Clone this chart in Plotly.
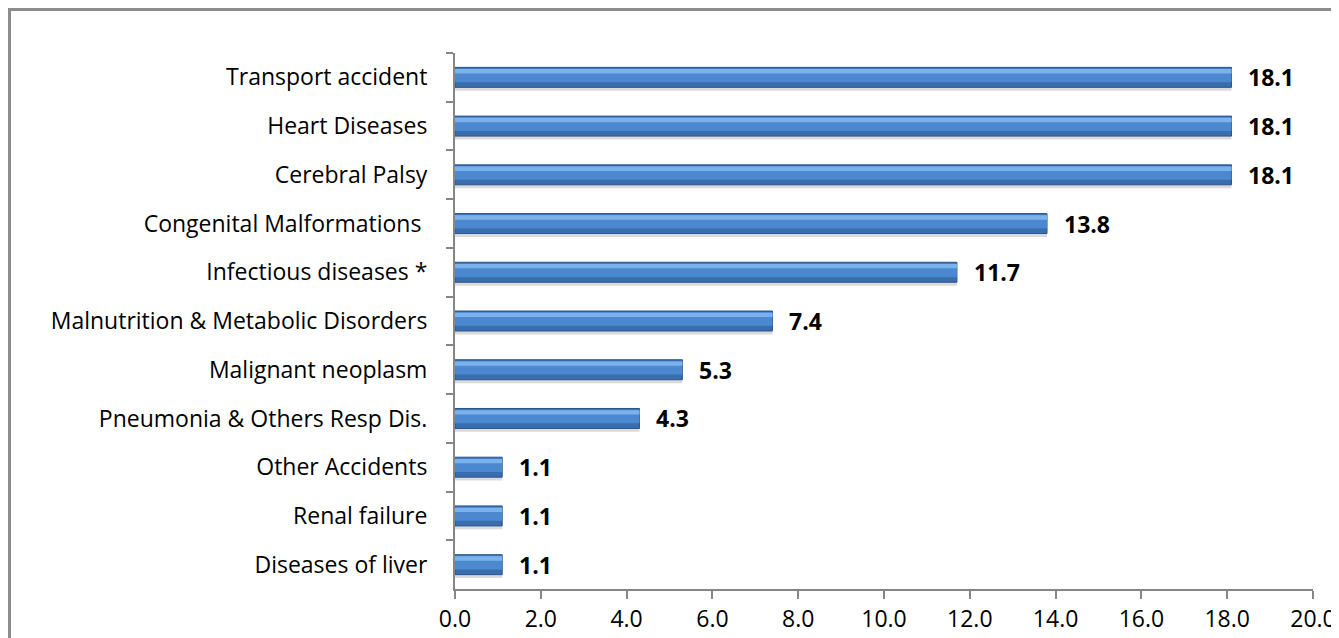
import plotly.graph_objects as go

categories = [
    "Transport accident",
    "Heart Diseases",
    "Cerebral Palsy",
    "Congenital Malformations\u00a0",
    "Infectious diseases *",
    "Malnutrition & Metabolic Disorders",
    "Malignant neoplasm",
    "Pneumonia & Others Resp Dis.",
    "Other Accidents",
    "Renal failure",
    "Diseases of liver",
]
values = [18.1, 18.1, 18.1, 13.8, 11.7, 7.4, 5.3, 4.3, 1.1, 1.1, 1.1]
value_labels = ["18.1", "18.1", "18.1", "13.8", "11.7", "7.4", "5.3", "4.3", "1.1", "1.1", "1.1"]
x_ticks = [0, 2, 4, 6, 8, 10, 12, 14, 16, 18, 20]

FONT = "'Open Sans', Lato, sans-serif"
W, H = 1339, 638
L, R, T, B = 447, 34, 45, 57

fig = go.Figure()

# soft shadow under each bar
fig.add_trace(go.Bar(
    y=categories, x=values, orientation="h",
    width=0.41, offset=-0.205 + 0.07,
    marker=dict(color="rgba(150,150,150,0.35)", line=dict(width=0)),
    hoverinfo="skip", showlegend=False,
))
# main bar body
fig.add_trace(go.Bar(
    y=categories, x=values, orientation="h",
    width=0.41, offset=-0.205,
    marker=dict(color="#3A6DAE", line=dict(color="#2B558C", width=1)),
    showlegend=False,
))
# mid tone
fig.add_trace(go.Bar(
    y=categories, x=values, orientation="h",
    width=0.28, offset=-0.18,
    marker=dict(color="#4C88D0", line=dict(width=0)),
    hoverinfo="skip", showlegend=False,
))
# light top highlight
fig.add_trace(go.Bar(
    y=categories, x=values, orientation="h",
    width=0.09, offset=-0.17,
    marker=dict(color="#7CB2EC", line=dict(width=0)),
    hoverinfo="skip", showlegend=False,
))

for c, v, t in zip(categories, values, value_labels):
    fig.add_annotation(
        x=v, y=c, text="<b>%s</b>" % t, showarrow=False,
        xanchor="left", yanchor="middle", xshift=15,
        font=dict(family=FONT, size=23, color="#000000"),
    )

# outer chart border (figure edge; runs off the right and bottom of the view)
pw, ph = W - L - R, H - T - B
fig.add_shape(
    type="rect", xref="paper", yref="paper",
    x0=(1.5 - L) / pw, x1=(W - 1.5 - L) / pw,
    y0=-(B - 1.5) / ph, y1=(ph + T - 1.5) / ph,
    line=dict(color="#8C8C8C", width=3), fillcolor="rgba(0,0,0,0)", layer="below",
)

fig.update_layout(
    width=W, height=H,
    margin=dict(l=L, r=R, t=T, b=B, autoexpand=False),
    paper_bgcolor="white", plot_bgcolor="white",
    barmode="overlay",
    font=dict(family=FONT, size=23, color="#000000"),
    xaxis=dict(
        range=[0, 20], tickvals=x_ticks,
        ticktext=["%.1f" % v for v in x_ticks],
        showgrid=False, zeroline=False, automargin=False,
        showline=True, linecolor="#868686", linewidth=2,
        ticks="outside", ticklen=8, tickcolor="#868686", tickwidth=2,
        tickfont=dict(family=FONT, size=23, color="#000000"),
        fixedrange=True,
    ),
    yaxis=dict(
        autorange="reversed", type="category",
        showgrid=False, zeroline=False, automargin=False,
        showline=True, linecolor="#868686", linewidth=2,
        ticks="outside", ticklen=7, tickcolor="#868686", tickwidth=2,
        tickson="boundaries",
        ticklabelstandoff=21,
        tickfont=dict(family=FONT, size=23, color="#000000"),
        fixedrange=True,
    ),
)

fig.write_html("out.html")
